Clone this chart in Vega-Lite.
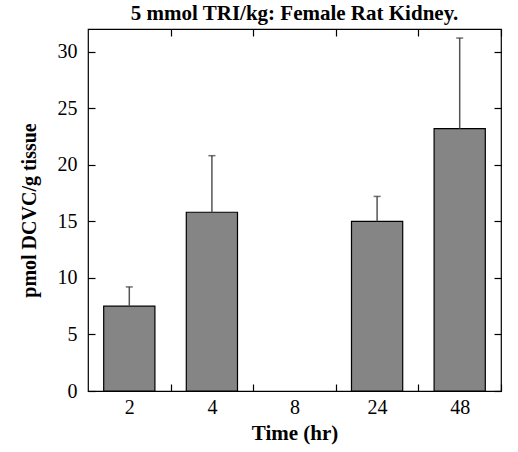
{
  "$schema": "https://vega.github.io/schema/vega-lite/v6.json",
  "width": 413,
  "height": 362,
  "autosize": {"type": "none"},
  "padding": {"left": 88, "top": 29, "right": 17, "bottom": 61},
  "background": "white",
  "title": {
    "text": "5 mmol TRI/kg: Female Rat Kidney.",
    "font": "Liberation Serif",
    "fontSize": 21,
    "fontWeight": "bold",
    "color": "black",
    "offset": 4
  },
  "config": {
    "view": {"stroke": "black", "strokeWidth": 1.2},
    "axis": {
      "domain": false,
      "grid": false,
      "labelFont": "Liberation Serif",
      "labelFontSize": 20,
      "labelColor": "black",
      "titleFont": "Liberation Serif",
      "titleFontSize": 21,
      "titleFontWeight": "bold",
      "titleColor": "black",
      "tickColor": "black",
      "tickWidth": 1.2,
      "tickSize": -7
    }
  },
  "data": {
    "values": [
      {"time": "2", "value": 7.5, "err": 9.2},
      {"time": "4", "value": 15.8, "err": 20.8},
      {"time": "8", "value": null, "err": null},
      {"time": "24", "value": 15.0, "err": 17.2},
      {"time": "48", "value": 23.2, "err": 31.2}
    ]
  },
  "resolve": {"axis": {"x": "independent", "y": "independent"}},
  "layer": [
    {
      "mark": {"type": "bar", "fill": "#858585", "stroke": "black", "strokeWidth": 1.2},
      "encoding": {
        "x": {
          "field": "time",
          "type": "ordinal",
          "sort": null,
          "scale": {"domain": ["2", "4", "8", "24", "48"], "paddingInner": 0.38, "paddingOuter": 0.19},
          "axis": {
            "orient": "bottom",
            "title": "Time (hr)",
            "labelAngle": 0,
            "tickOffset": 41.3,
            "labelOffset": -41.3,
            "labelPadding": 13,
            "titlePadding": 5
          }
        },
        "y": {
          "field": "value",
          "type": "quantitative",
          "scale": {"domain": [0, 32], "nice": false},
          "axis": {
            "orient": "left",
            "title": "pmol DCVC/g tissue",
            "titleFontSize": 20,
            "values": [0, 5, 10, 15, 20, 25, 30],
            "labelPadding": 18,
            "titlePadding": 18
          }
        }
      }
    },
    {
      "mark": {"type": "rule", "color": "#555555", "strokeWidth": 1.5},
      "encoding": {
        "x": {
          "field": "time",
          "type": "ordinal",
          "sort": null,
          "axis": {"orient": "top", "title": null, "labels": false, "tickOffset": 41.3}
        },
        "y": {
          "field": "value",
          "type": "quantitative",
          "axis": {"orient": "right", "title": null, "labels": false, "values": [0, 5, 10, 15, 20, 25, 30]}
        },
        "y2": {"field": "err"}
      }
    },
    {
      "mark": {"type": "tick", "orient": "horizontal", "color": "#333333", "size": 7, "thickness": 1.5},
      "encoding": {
        "x": {"field": "time", "type": "ordinal", "sort": null, "axis": null},
        "y": {"field": "err", "type": "quantitative", "axis": null}
      }
    }
  ]
}
